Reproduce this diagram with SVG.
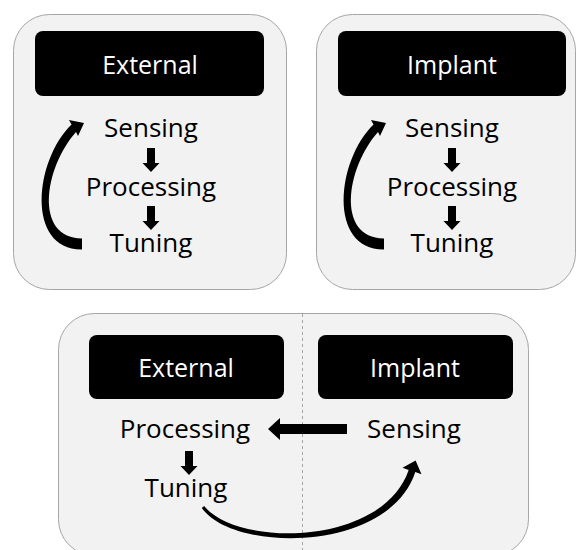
<svg xmlns="http://www.w3.org/2000/svg" xmlns:xlink="http://www.w3.org/1999/xlink" width="576" height="550" viewBox="0 0 576 550">
  <style>
    .panel { fill: #f2f2f2; stroke: #a6a6a6; stroke-width: 1; }
    .header { fill: #000000; }
    .htext { font-family: "Open Sans", "Liberation Sans", sans-serif; font-size: 25px; fill: #ffffff; text-anchor: middle; }
    .label { font-family: "Open Sans", "Liberation Sans", sans-serif; font-size: 26px; fill: #000000; text-anchor: middle; }
    .arrow { fill: #000000; }
    .divider { stroke: #a6a6a6; stroke-width: 1; stroke-dasharray: 3 3; fill: none; }
  </style>
  <defs>
    <!-- short block arrow pointing down, origin at top centre of shaft -->
    <polygon id="down" points="-4,0 4,0 4,15 8.5,15 0,24 -8.5,15 -4,15"/>
    <!-- tapered loop arrow from Tuning back up to Sensing -->
    <path id="loop" d="M82,249.5 C26,250 34,161 71.5,124.5 L69,120 L84,123 L78,136 L76,132 C44,168 34,238 82,238.5 Z"/>
  </defs>

  <!-- top-left: external device loop -->
  <g id="external-panel">
    <rect class="panel" x="13.5" y="14.5" width="273" height="275" rx="36"/>
    <rect class="header" x="35" y="31" width="229" height="65" rx="8"/>
    <text class="htext" x="150" y="73.5">External</text>
  </g>
  <g id="ext-sensing"><text class="label" x="151" y="137">Sensing</text></g>
  <g id="ext-processing"><text class="label" x="151" y="195.5">Processing</text></g>
  <g id="ext-tuning"><text class="label" x="151" y="252">Tuning</text></g>

  <!-- top-right: implant loop -->
  <g id="implant-panel">
    <rect class="panel" x="316.5" y="14.5" width="259" height="275" rx="36"/>
    <rect class="header" x="338" y="31" width="228" height="65" rx="8"/>
    <text class="htext" x="452" y="73.5">Implant</text>
  </g>
  <g id="imp-sensing"><text class="label" x="452" y="137">Sensing</text></g>
  <g id="imp-processing"><text class="label" x="452" y="195.5">Processing</text></g>
  <g id="imp-tuning"><text class="label" x="452" y="252">Tuning</text></g>

  <!-- bottom: split loop across external and implant -->
  <g id="split-panel">
    <rect class="panel" x="58.5" y="313.5" width="470" height="242" rx="36"/>
    <line class="divider" x1="302.5" y1="314" x2="302.5" y2="550"/>
    <rect class="header" x="89" y="335" width="195" height="64" rx="8"/>
    <text class="htext" x="186" y="377">External</text>
    <rect class="header" x="318" y="335" width="195" height="64" rx="8"/>
    <text class="htext" x="415" y="377">Implant</text>
  </g>
  <g id="split-processing"><text class="label" x="185" y="438">Processing</text></g>
  <g id="split-sensing"><text class="label" x="414" y="438">Sensing</text></g>
  <g id="split-tuning"><text class="label" x="186" y="497">Tuning</text></g>

  <g id="connectors" class="arrow">
    <use xlink:href="#down" x="151" y="148"/>
    <use xlink:href="#down" x="151" y="206"/>
    <use xlink:href="#loop"/>
    <use xlink:href="#down" x="452" y="148"/>
    <use xlink:href="#down" x="452" y="206"/>
    <use xlink:href="#loop" x="302"/>
    <use xlink:href="#down" x="189" y="451"/>
    <!-- Sensing (implant) to Processing (external) -->
    <polygon points="347,424 280,424 280,418 268,429 280,440 280,434 347,434"/>
    <!-- Tuning (external) back to Sensing (implant) -->
    <path d="M201.8,507.9 C233,553 389,553 415.3,472.1 L421.5,474.2 L415.6,460.6 L402.5,467.8 L408.7,469.9 C382,547 237,547 204.2,506.1 Z"/>
  </g>
</svg>
